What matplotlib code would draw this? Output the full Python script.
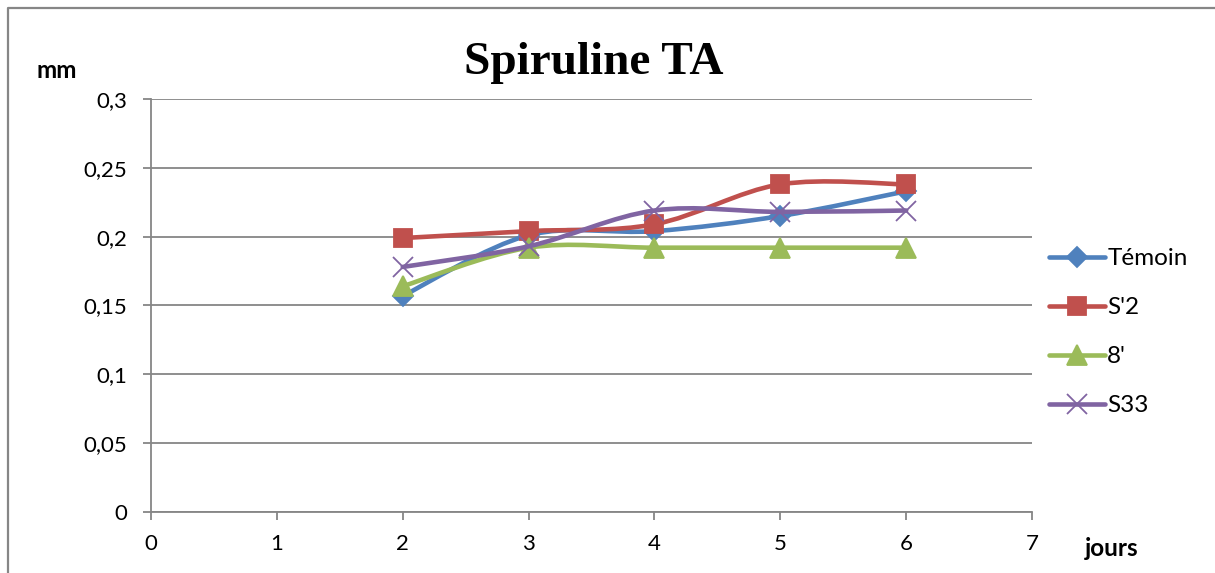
import matplotlib
matplotlib.use("Agg")
import matplotlib.pyplot as plt
from matplotlib.path import Path
from matplotlib.patches import PathPatch
from matplotlib.lines import Line2D

plt.rcParams['font.family'] = ['Lato', 'DejaVu Sans']

# growth in mm per day
jours = [2, 3, 4, 5, 6]
temoin = [0.157, 0.201, 0.204, 0.215, 0.233]
s2 = [0.199, 0.204, 0.209, 0.238, 0.238]
huit = [0.164, 0.192, 0.192, 0.192, 0.192]
s33 = [0.178, 0.193, 0.219, 0.218, 0.219]

noms = ["Témoin", "S'2", "8'", "S33"]
couleurs = ['#4F81BD', '#C0504D', '#9BBB59', '#8064A2']
marqueurs = ['D', 's', '^', 'x']
tailles = [10.5, 13.5, 14, 14]
x_ticks = [0, 1, 2, 3, 4, 5, 6, 7]
y_ticks = [0, 0.05, 0.1, 0.15, 0.2, 0.25, 0.3]
grey = '#868686'


def courbe_lissee(xs, ys):
    # smoothed line like the spreadsheet: cubic bezier, catmull-rom style handles
    pts = list(zip(xs, ys))
    verts = [pts[0]]
    codes = [Path.MOVETO]
    n = len(pts)
    for i in range(n - 1):
        p0 = pts[i - 1] if i > 0 else pts[i]
        p1 = pts[i]
        p2 = pts[i + 1]
        p3 = pts[i + 2] if i + 2 < n else pts[i + 1]
        c1 = (p1[0] + (p2[0] - p0[0]) / 6, p1[1] + (p2[1] - p0[1]) / 6)
        c2 = (p2[0] - (p3[0] - p1[0]) / 6, p2[1] - (p3[1] - p1[1]) / 6)
        verts += [c1, c2, p2]
        codes += [Path.CURVE4] * 3
    return Path(verts, codes)


fig = plt.figure(figsize=(12.15, 5.73), dpi=100)
ax = fig.add_axes([0.1243, 0.1065, 0.7251, 0.7207])

series = [temoin, s2, huit, s33]
poignees = []
for k, ys in enumerate(series):
    z = 3 + 2 * k
    ax.add_patch(PathPatch(courbe_lissee(jours, ys), facecolor='none',
                           edgecolor=couleurs[k], lw=3.3, zorder=z,
                           capstyle='round', joinstyle='round'))
    ax.plot(jours, ys, ls='none', marker=marqueurs[k], ms=tailles[k],
            color=couleurs[k], mec=couleurs[k], mew=1.3, zorder=z + 1)
    poignees.append(Line2D([], [], color=couleurs[k], lw=3.3,
                           marker=marqueurs[k], ms=tailles[k], mew=1.3,
                           solid_capstyle='round'))

ax.set_xlim(0, 7)
ax.set_ylim(0, 0.3)
ax.set_xticks(x_ticks)
ax.set_yticks(y_ticks)
ax.set_xticklabels([str(v) for v in x_ticks])
ax.set_yticklabels(['0', '0,05', '0,1', '0,15', '0,2', '0,25', '0,3'])
ax.tick_params(axis='both', colors=grey, labelcolor='black', labelsize=16,
               length=6, width=1.3)
ax.tick_params(axis='x', pad=10)
ax.tick_params(axis='y', pad=11)

ax.grid(axis='y', color=grey, lw=1.3)
ax.set_axisbelow(True)
for side in ['top', 'right']:
    ax.spines[side].set_visible(False)
for side in ['left', 'bottom']:
    ax.spines[side].set_color(grey)
    ax.spines[side].set_linewidth(1.3)

leg = ax.legend(poignees, noms, loc='center left', bbox_to_anchor=(1.0, 0.435),
                frameon=False, fontsize=17.5, handlelength=2.3,
                handletextpad=0.1, labelspacing=1.15, borderaxespad=0.3)

fig.text(0.489, 1 - 74 / 573, 'Spiruline TA', ha='center', va='baseline',
         fontsize=34, fontweight='bold', family='Liberation Serif')
fig.text(37 / 1215, 1 - 78 / 573, 'mm', ha='left', va='baseline',
         fontsize=17.5, fontweight='bold')
fig.text(1085 / 1215, 1 - 556 / 573, 'jours', ha='left', va='baseline',
         fontsize=17.5, fontweight='bold')

# chart frame, only the top and left edges are inside the image
fig.add_artist(Line2D([8 / 1215, 8 / 1215, 1.0], [0.0, 1 - 8 / 573, 1 - 8 / 573],
                      color=grey, lw=1.6, transform=fig.transFigure))

fig.savefig('out.png', dpi=100)
